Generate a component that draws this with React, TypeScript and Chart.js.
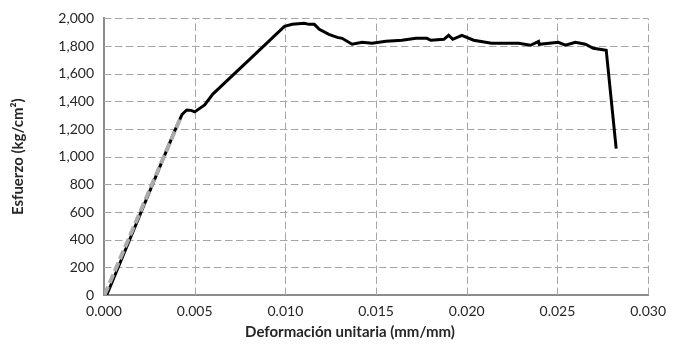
import React, { useEffect, useRef } from "react";
import { Chart, registerables } from "chart.js";

Chart.register(...registerables);

// Measured stress–strain curve
const strain: number[] = [
  0.00015, 0.0039, 0.0043, 0.00456, 0.0048, 0.005, 0.00555, 0.006, 0.0080, 0.00995,
  0.01038, 0.01104, 0.0113, 0.0116, 0.01187, 0.0124, 0.01286, 0.01313, 0.01368,
  0.01423, 0.01478, 0.01555, 0.01643, 0.0172, 0.0178, 0.01802, 0.01874, 0.019,
  0.01923, 0.01973, 0.02038, 0.02137, 0.02286, 0.02352, 0.02396, 0.024, 0.02505,
  0.02544, 0.02599, 0.02654, 0.02698, 0.02769, 0.02824,
];
const stress: number[] = [
  0, 1187, 1305, 1338, 1335, 1324, 1374, 1453, 1700, 1942,
  1957, 1964, 1957, 1957, 1921, 1885, 1863, 1856, 1813,
  1827, 1820, 1834, 1842, 1856, 1856, 1842, 1849, 1878,
  1849, 1878, 1842, 1820, 1820, 1806, 1834, 1813, 1827,
  1806, 1827, 1813, 1784, 1770, 1058,
];

// Linear elastic reference line
const fitStrain: number[] = [0.00003, 0.00425];
const fitStress: number[] = [0, 1290];

const xTicks: number[] = [0, 0.005, 0.01, 0.015, 0.02, 0.025, 0.03];

const xTitle = "Deformación unitaria (mm/mm)";
const yTitle = "Esfuerzo (kg/cm²)";

const FONT = "Lato, 'Open Sans', sans-serif";
const TEXT = "#262626";
const GRID = "#a6a6a6";

// Dashed grid drawn from the scales' own ticks
const dashedGrid = {
  id: "dashedGrid",
  beforeDatasetsDraw(c: any) {
    const { ctx, chartArea: a, scales } = c;
    ctx.save();
    ctx.strokeStyle = GRID;
    ctx.lineWidth = 1;
    ctx.setLineDash([7.5, 3.5]);
    for (const t of scales.x.ticks) {
      if (t.value === 0) continue;
      const px = Math.round(scales.x.getPixelForValue(t.value)) + 0.5;
      ctx.beginPath();
      ctx.moveTo(px, a.bottom);
      ctx.lineTo(px, a.top);
      ctx.stroke();
    }
    for (const t of scales.y.ticks) {
      if (t.value === 0) continue;
      const py = Math.round(scales.y.getPixelForValue(t.value)) + 0.5;
      ctx.beginPath();
      ctx.moveTo(a.left, py);
      ctx.lineTo(a.right, py);
      ctx.stroke();
    }
    ctx.restore();
  },
};

// Axis titles
const axisTitles = {
  id: "axisTitles",
  afterDraw(c: any) {
    const { ctx, chartArea: a } = c;
    ctx.save();
    ctx.fillStyle = TEXT;
    ctx.font = `bold 15px ${FONT}`;
    ctx.textAlign = "center";
    ctx.textBaseline = "middle";
    ctx.fillText(xTitle, 350, 332);
    ctx.translate(18, (a.top + a.bottom) / 2);
    ctx.rotate(-Math.PI / 2);
    ctx.fillText(yTitle, 0, 0);
    ctx.restore();
  },
};

export default function App() {
  const ref = useRef<HTMLCanvasElement | null>(null);

  useEffect(() => {
    if (!ref.current) return;
    const chart = new Chart(ref.current, {
      type: "scatter",
      data: {
        datasets: [
          {
            label: "Ajuste lineal",
            data: fitStrain.map((x, i) => ({ x, y: fitStress[i] })),
            showLine: true,
            borderColor: "#ababab",
            borderWidth: 4,
            borderDash: [9, 4],
            pointRadius: 0,
            order: 0,
          },
          {
            label: "Ensayo",
            data: strain.map((x, i) => ({ x, y: stress[i] })),
            showLine: true,
            borderColor: "#000000",
            borderWidth: 3,
            pointRadius: 0,
            order: 1,
          },
        ],
      },
      options: {
        animation: false,
        responsive: false,
        maintainAspectRatio: false,
        layout: { padding: { left: 4, right: 24, top: 16, bottom: 0 } },
        plugins: { legend: { display: false }, tooltip: { enabled: false } },
        scales: {
          x: {
            type: "linear",
            min: 0,
            max: 0.03,
            afterBuildTicks: (scale: any) => {
              scale.ticks = xTicks.map((v) => ({ value: v }));
            },
            ticks: {
              callback: (v: any) => Number(v).toFixed(3),
              font: { family: FONT, size: 14 },
              color: TEXT,
              padding: 8,
              maxRotation: 0,
            },
            grid: { display: false, drawTicks: false },
            border: { display: true, color: "#8c8c8c", width: 2 },
            afterFit: (scale: any) => {
              scale.height = 50;
            },
          },
          y: {
            type: "linear",
            min: 0,
            max: 2000,
            ticks: {
              stepSize: 200,
              callback: (v: any) => Number(v).toLocaleString("en-US"),
              font: { family: FONT, size: 14 },
              color: TEXT,
              padding: 10,
            },
            grid: { display: false, drawTicks: false },
            border: { display: true, color: "#8c8c8c", width: 2 },
            afterFit: (scale: any) => {
              scale.width = 100;
            },
          },
        },
      },
      plugins: [dashedGrid, axisTitles],
    } as any);
    return () => chart.destroy();
  }, []);

  return (
    <div style={{ position: "fixed", left: 0, top: 0, width: 674, height: 345, background: "#fff" }}>
      <canvas ref={ref} width={674} height={345} />
    </div>
  );
}
